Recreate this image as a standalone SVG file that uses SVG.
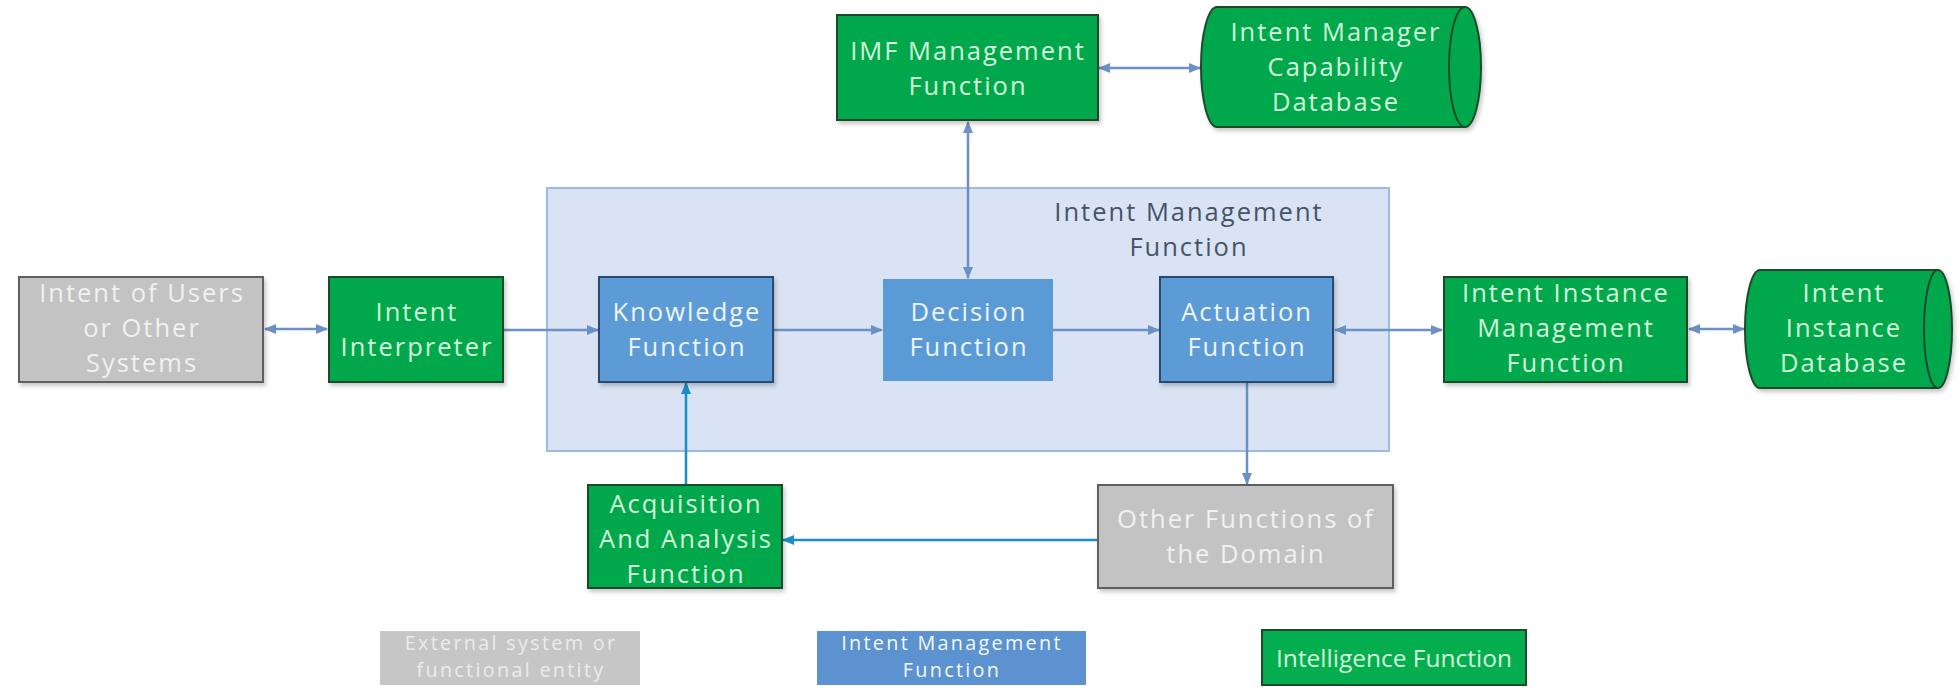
<svg xmlns="http://www.w3.org/2000/svg" width="1960" height="692" viewBox="0 0 1960 692">
<defs>
<style>
text{font-family:"Open Sans","DejaVu Sans",sans-serif;text-anchor:middle}
.t{font-size:25.5px;letter-spacing:2px}
.lg{font-size:19.8px;letter-spacing:2.3px}
.green{fill:#04a84c;stroke:#1d4a2a;stroke-width:2}
.gray{fill:#c3c3c3;stroke:#5f5f5f;stroke-width:2}
.blue{fill:#5b9bd5;stroke:#2b4a72;stroke-width:2}
.blue0{fill:#5b9bd5;stroke:none}
.tg{fill:#d4f7dc}
.tw{fill:#f1f1f1}
.tb{fill:#eef4fb}
.cn{fill:none;stroke:#6a90c6;stroke-width:2.5}
.cn2{fill:none;stroke:#1b8cc6;stroke-width:2.5}
</style>
<filter id="sh" x="-10%" y="-10%" width="130%" height="130%">
<feDropShadow dx="2" dy="3" stdDeviation="2" flood-color="#000" flood-opacity="0.22"/>
</filter>
<marker id="a" viewBox="0 0 12 10" refX="11" refY="5" markerWidth="12" markerHeight="10" markerUnits="userSpaceOnUse" orient="auto-start-reverse">
<path d="M0,0 L12,5 L0,10 Z" fill="#6a90c6"/>
</marker>
<marker id="a2" viewBox="0 0 12 10" refX="11" refY="5" markerWidth="12" markerHeight="10" markerUnits="userSpaceOnUse" orient="auto-start-reverse">
<path d="M0,0 L12,5 L0,10 Z" fill="#1b8cc6"/>
</marker>
</defs>
<rect width="1960" height="692" fill="#ffffff"/>

<g id="imf-container">
<rect x="547" y="188" width="842" height="263" fill="#dae3f3" stroke="#9bbbe3" stroke-width="2"/>
<text x="1189" y="221" class="t" fill="#44546a">Intent Management</text>
<text x="1189" y="256" class="t" fill="#44546a">Function</text>
</g>

<g id="connectors">
<line x1="265" y1="329" x2="327" y2="329" class="cn" marker-start="url(#a)" marker-end="url(#a)"/>
<line x1="503" y1="330" x2="598" y2="330" class="cn" marker-end="url(#a)"/>
<line x1="773" y1="330" x2="882" y2="330" class="cn" marker-end="url(#a)"/>
<line x1="1053" y1="330" x2="1159" y2="330" class="cn" marker-end="url(#a)"/>
<line x1="1335" y1="330" x2="1442" y2="330" class="cn" marker-start="url(#a)" marker-end="url(#a)"/>
<line x1="1689" y1="329" x2="1744" y2="329" class="cn" marker-start="url(#a)" marker-end="url(#a)"/>
<line x1="968" y1="122" x2="968" y2="278" class="cn" marker-start="url(#a)" marker-end="url(#a)"/>
<line x1="1099" y1="68" x2="1200" y2="68" class="cn" marker-start="url(#a)" marker-end="url(#a)"/>
<line x1="1247" y1="382" x2="1247" y2="484" class="cn" marker-end="url(#a)"/>
<line x1="1098" y1="540" x2="783" y2="540" class="cn2" marker-end="url(#a2)"/>
<line x1="686" y1="485" x2="686" y2="383" class="cn2" marker-end="url(#a2)"/>
</g>

<g id="intent-of-users">
<rect x="19" y="277" width="244" height="105" class="gray" filter="url(#sh)"/>
<text x="142" y="302" class="t tw">Intent of Users</text>
<text x="142" y="337" class="t tw">or Other</text>
<text x="142" y="372" class="t tw">Systems</text>
</g>

<g id="intent-interpreter">
<rect x="329" y="277" width="174" height="105" class="green" filter="url(#sh)"/>
<text x="417" y="321" class="t tg">Intent</text>
<text x="417" y="356" class="t tg">Interpreter</text>
</g>

<g id="knowledge-function">
<rect x="599" y="277" width="174" height="105" class="blue" filter="url(#sh)"/>
<text x="687" y="321" class="t tb">Knowledge</text>
<text x="687" y="356" class="t tb">Function</text>
</g>

<g id="decision-function">
<rect x="883" y="279" width="170" height="102" class="blue0"/>
<text x="969" y="321" class="t tb">Decision</text>
<text x="969" y="356" class="t tb">Function</text>
</g>

<g id="actuation-function">
<rect x="1160" y="277" width="173" height="105" class="blue" filter="url(#sh)"/>
<text x="1247" y="321" class="t tb">Actuation</text>
<text x="1247" y="356" class="t tb">Function</text>
</g>

<g id="intent-instance-management">
<rect x="1444" y="277" width="243" height="105" class="green" filter="url(#sh)"/>
<text x="1566" y="302" class="t tg">Intent Instance</text>
<text x="1566" y="337" class="t tg">Management</text>
<text x="1566" y="372" class="t tg">Function</text>
</g>

<g id="intent-instance-database">
<path d="M1760,270 L1938,270 A14,59 0 0 1 1938,388 L1760,388 A15,59 0 0 1 1760,270 Z" class="green" filter="url(#sh)"/>
<path d="M1938,270 A14,59 0 0 0 1938,388" fill="none" stroke="#1d4a2a" stroke-width="2"/>
<text x="1844" y="302" class="t tg">Intent</text>
<text x="1844" y="337" class="t tg">Instance</text>
<text x="1844" y="372" class="t tg">Database</text>
</g>

<g id="imf-management-function">
<rect x="837" y="15" width="261" height="105" class="green" filter="url(#sh)"/>
<text x="968" y="60" class="t tg">IMF Management</text>
<text x="968" y="95" class="t tg">Function</text>
</g>

<g id="intent-manager-capability-database">
<path d="M1217,7 L1465,7 A16,60 0 0 1 1465,127 L1217,127 A16,60 0 0 1 1217,7 Z" class="green" filter="url(#sh)"/>
<path d="M1465,7 A16,60 0 0 0 1465,127" fill="none" stroke="#1d4a2a" stroke-width="2"/>
<text x="1336" y="41" class="t tg">Intent Manager</text>
<text x="1336" y="76" class="t tg">Capability</text>
<text x="1336" y="111" class="t tg">Database</text>
</g>

<g id="acquisition-analysis-function">
<rect x="588" y="485" width="194" height="103" class="green" filter="url(#sh)"/>
<text x="686" y="513" class="t tg">Acquisition</text>
<text x="686" y="548" class="t tg">And Analysis</text>
<text x="686" y="583" class="t tg">Function</text>
</g>

<g id="other-functions">
<rect x="1098" y="485" width="295" height="103" class="gray" filter="url(#sh)"/>
<text x="1246" y="528" class="t tw">Other Functions of</text>
<text x="1246" y="563" class="t tw">the Domain</text>
</g>

<g id="legend-external">
<rect x="380" y="631" width="260" height="54" fill="#c6c6c6"/>
<text x="511" y="650" class="lg" fill="#ececec">External system or</text>
<text x="511" y="677" class="lg" fill="#ececec">functional entity</text>
</g>

<g id="legend-imf">
<rect x="817" y="631" width="269" height="54" fill="#5b92cf"/>
<text x="952" y="650" class="lg" fill="#f4f8fc">Intent Management</text>
<text x="952" y="677" class="lg" fill="#f4f8fc">Function</text>
</g>

<g id="legend-intelligence">
<rect x="1262" y="630" width="264" height="55" fill="#04ad4e" stroke="#1d4a2a" stroke-width="2"/>
<text x="1394" y="667" style="font-size:24.5px" fill="#d4f7dc">Intelligence Function</text>
</g>
</svg>
